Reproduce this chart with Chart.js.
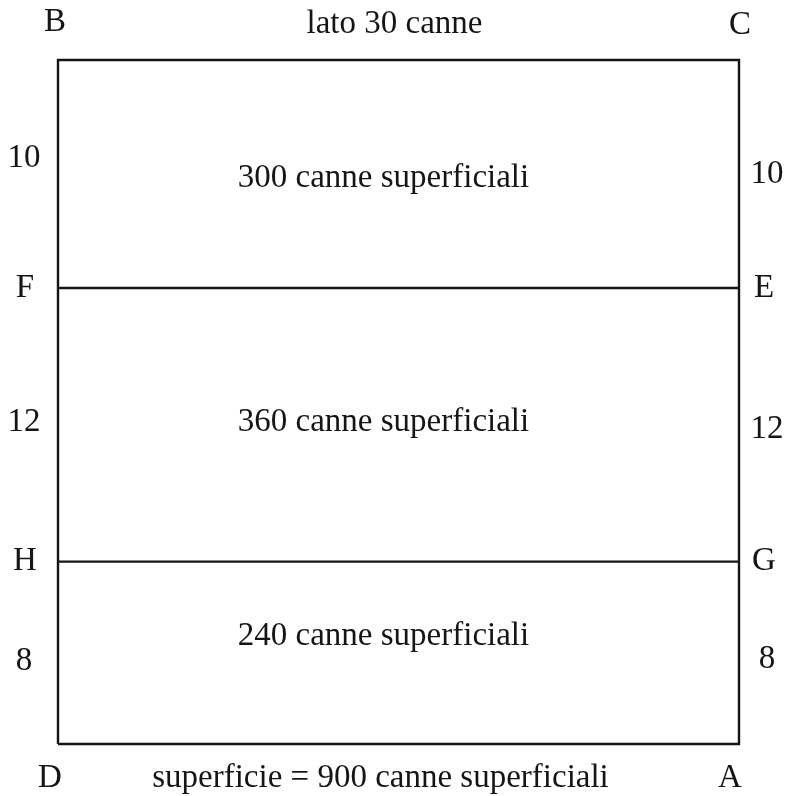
<!DOCTYPE html>
<html>
<head>
<meta charset="utf-8">
<script src="https://cdn.jsdelivr.net/npm/chart.js@4/dist/chart.umd.min.js"></script>
<style>
html,body{margin:0;padding:0;background:#fff;}
#wrap{width:786px;height:796px;}
</style>
</head>
<body>
<div id="wrap"><canvas id="c" width="786" height="796"></canvas></div>
<script>
// Data (in canne)
const sideWidth = 30;                       // lato BC
const segmentLengths = [10, 12, 8];         // BF, FH, HD (top to bottom)
const areaValues = [300, 360, 240];         // canne superficiali per strip
const totalArea = 900;
const leftLabels = ['B', 'F', 'H', 'D'];    // top to bottom on left side
const rightLabels = ['C', 'E', 'G', 'A'];   // top to bottom on right side
const topText = 'lato 30 canne';
const bottomText = 'superficie = 900 canne superficiali';
const areaUnit = 'canne superficiali';

const totalHeight = segmentLengths.reduce((a, b) => a + b, 0);
// boundaries from top (y = totalHeight) down to 0
const boundaries = [totalHeight];
segmentLengths.forEach(s => boundaries.push(boundaries[boundaries.length - 1] - s));

const datasets = [];
// outer rectangle
datasets.push({
  data: [{x:0,y:0},{x:sideWidth,y:0},{x:sideWidth,y:totalHeight},{x:0,y:totalHeight},{x:0,y:0}],
  showLine: true, borderColor: '#151515', borderWidth: 2.4, pointRadius: 0, fill: false, tension: 0,
  clip: false, borderJoinStyle: 'miter'
});
// internal dividing lines
boundaries.slice(1, -1).forEach(b => {
  datasets.push({
    data: [{x:0,y:b},{x:sideWidth,y:b}],
    showLine: true, borderColor: '#151515', borderWidth: 2.4, pointRadius: 0, fill: false, clip: false
  });
});

const FONT = '33px "Liberation Serif", "Times New Roman", serif';

const labelPlugin = {
  id: 'labels',
  afterDraw(chart) {
    const {ctx, scales: {x, y}} = chart;
    ctx.save();
    ctx.fillStyle = '#151515';
    ctx.font = FONT;
    ctx.textBaseline = 'middle';
    ctx.textAlign = 'center';
    const xl = x.getPixelForValue(0), xr = x.getPixelForValue(sideWidth);
    const xm = x.getPixelForValue(sideWidth / 2);
    const yTop = y.getPixelForValue(totalHeight), yBot = y.getPixelForValue(0);
    // title and bottom text
    ctx.fillText(topText, xm - 4, yTop - 36);
    ctx.fillText(bottomText, xm - 18, yBot + 34);
    // corner/point labels
    boundaries.forEach((b, i) => {
      const py = y.getPixelForValue(b);
      let dyL = 0, dyR = 0, dxL = -33, dxR = 25;
      if (i === 0) { dyL = -38; dyR = -35; dxL = -3; dxR = 1; }
      if (i === boundaries.length - 1) { dyL = 34; dyR = 34; dxL = -8; dxR = -9; }
      ctx.fillText(leftLabels[i], xl + dxL, py + dyL);
      ctx.fillText(rightLabels[i], xr + dxR, py + dyR);
    });
    // segment lengths and areas
    const areaOffsets = [4, -2, -16];
    const leftOffsets = [-16, -2, 9];
    const rightOffsets = [0, 5, 7];
    segmentLengths.forEach((s, i) => {
      const ym = (y.getPixelForValue(boundaries[i]) + y.getPixelForValue(boundaries[i + 1])) / 2;
      ctx.fillText(String(s), xl - 34, ym + leftOffsets[i]);
      ctx.fillText(String(s), xr + 28, ym + rightOffsets[i]);
      ctx.fillText(areaValues[i] + ' ' + areaUnit, xm - 15, ym + areaOffsets[i]);
    });
    ctx.restore();
  }
};

new Chart(document.getElementById('c'), {
  type: 'scatter',
  data: { datasets },
  options: {
    responsive: false,
    animation: false,
    layout: { padding: { left: 58, right: 47, top: 60, bottom: 52 } },
    plugins: { legend: { display: false }, tooltip: { enabled: false } },
    scales: {
      x: { type: 'linear', min: 0, max: sideWidth, display: false },
      y: { type: 'linear', min: 0, max: totalHeight, display: false }
    }
  },
  plugins: [labelPlugin]
});
</script>
</body>
</html>
